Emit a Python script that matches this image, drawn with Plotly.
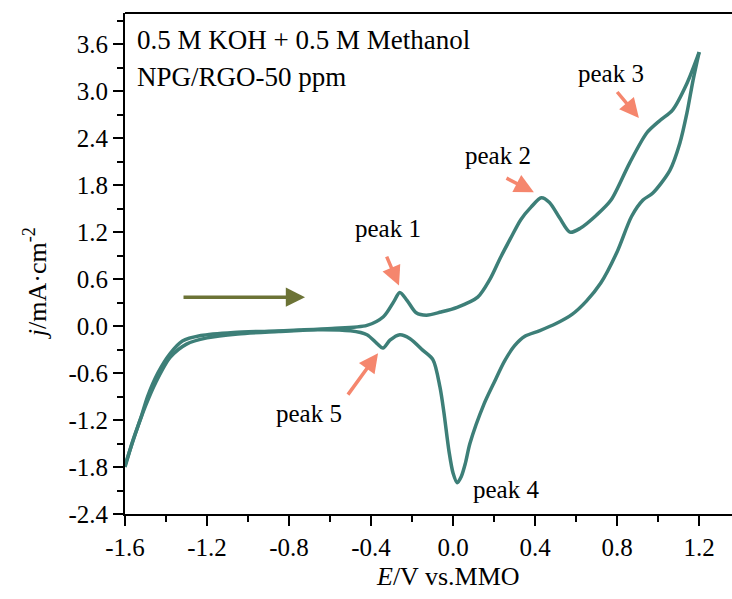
import plotly.graph_objects as go

# Anodic (forward) scan
fwd_x = [-1.6, -1.56, -1.52, -1.49, -1.44, -1.38, -1.32, -1.23, -1.07, -0.9, -0.75, -0.59,
         -0.42, -0.34, -0.29, -0.26, -0.225, -0.18, -0.13, -0.06, 0.02, 0.12, 0.18, 0.23,
         0.28, 0.33, 0.38, 0.43, 0.47, 0.52, 0.57, 0.62, 0.7, 0.77, 0.86, 0.945, 1.01, 1.07, 1.14, 1.2]
fwd_y = [-1.8, -1.45, -1.15, -0.9, -0.6, -0.35, -0.19, -0.12, -0.08, -0.065, -0.05, -0.03,
         0.01, 0.12, 0.31, 0.43, 0.33, 0.17, 0.14, 0.18, 0.24, 0.37, 0.6, 0.87,
         1.12, 1.36, 1.52, 1.64, 1.58, 1.38, 1.2, 1.25, 1.42, 1.61, 2.08, 2.47, 2.63, 2.76, 3.1, 3.5]

# Cathodic (reverse) scan
rev_x = [1.2, 1.17, 1.14, 1.106, 1.057, 0.974, 0.926, 0.87, 0.8, 0.72, 0.65, 0.58, 0.5,
         0.42, 0.35, 0.3, 0.25, 0.2, 0.15, 0.082, 0.06, 0.04, 0.02, 0.0, -0.02, -0.045, -0.064,
         -0.098, -0.147, -0.21, -0.26, -0.308, -0.342, -0.372, -0.42, -0.5, -0.66, -0.85,
         -1.05, -1.2, -1.3, -1.38, -1.45, -1.5, -1.55, -1.6]
rev_y = [3.5, 3.14, 2.72, 2.34, 1.99, 1.70, 1.61, 1.4, 0.95, 0.55, 0.32, 0.15, 0.03,
         -0.06, -0.13, -0.25, -0.45, -0.72, -1.0, -1.5, -1.75, -1.92, -2.0, -1.88, -1.6, -1.1, -0.78,
         -0.43, -0.31, -0.16, -0.11, -0.18, -0.28, -0.22, -0.11, -0.06, -0.045, -0.07,
         -0.1, -0.15, -0.23, -0.4, -0.72, -1.02, -1.38, -1.78]

x_ticks = [-1.6, -1.2, -0.8, -0.4, 0.0, 0.4, 0.8, 1.2]
x_labels = ["-1.6", "-1.2", "-0.8", "-0.4", "0.0", "0.4", "0.8", "1.2"]
y_ticks = [-2.4, -1.8, -1.2, -0.6, 0.0, 0.6, 1.2, 1.8, 2.4, 3.0, 3.6]
y_labels = ["-2.4", "-1.8", "-1.2", "-0.6", "0.0", "0.6", "1.2", "1.8", "2.4", "3.0", "3.6"]

peak_labels = ["peak 1", "peak 2", "peak 3", "peak 4", "peak 5"]
peak_text_x = [-0.318, 0.219, 0.772, 0.258, -0.703]
peak_text_y = [1.25, 2.18, 3.23, -2.09, -1.11]
peak_tip_x = [-0.264, 0.394, 0.906, None, -0.366]
peak_tip_y = [0.52, 1.71, 2.66, None, -0.345]
peak_tail_x = [-0.327, 0.253, 0.794, None, -0.518]
peak_tail_y = [0.907, 1.90, 3.01, None, -0.894]

LINE = "#3d7f78"
SALMON = "#f5866d"
OLIVE = "#6c7336"
FONT = "Liberation Serif"

fig = go.Figure()
fig.add_trace(go.Scatter(x=fwd_x, y=fwd_y, mode="lines",
                         line=dict(color=LINE, width=3.5, shape="spline", smoothing=0.8),
                         showlegend=False))
fig.add_trace(go.Scatter(x=rev_x, y=rev_y, mode="lines",
                         line=dict(color=LINE, width=3.5, shape="spline", smoothing=0.8),
                         showlegend=False))

ann = []
ann.append(dict(x=-1.551, y=3.655, xref="x", yref="y", text="0.5 M KOH + 0.5 M Methanol",
                showarrow=False, xanchor="left", yanchor="middle",
                font=dict(family=FONT, size=27, color="black")))
ann.append(dict(x=-1.551, y=3.18, xref="x", yref="y", text="NPG/RGO-50 ppm",
                showarrow=False, xanchor="left", yanchor="middle",
                font=dict(family=FONT, size=27, color="black")))
for i, lab in enumerate(peak_labels):
    ann.append(dict(x=peak_text_x[i], y=peak_text_y[i], xref="x", yref="y", text=lab,
                    showarrow=False, xanchor="center", yanchor="middle",
                    font=dict(family=FONT, size=25, color="black")))
    if peak_tip_x[i] is not None:
        ann.append(dict(x=peak_tip_x[i], y=peak_tip_y[i], ax=peak_tail_x[i], ay=peak_tail_y[i],
                        xref="x", yref="y", axref="x", ayref="y", text="", showarrow=True,
                        arrowhead=2, arrowsize=1.1, arrowwidth=3.5, arrowcolor=SALMON))
# scan-direction arrow
ann.append(dict(x=-0.722, y=0.37, ax=-1.322, ay=0.37, xref="x", yref="y", axref="x", ayref="y",
                text="", showarrow=True, arrowhead=2, arrowsize=1.1, arrowwidth=3.5,
                arrowcolor=OLIVE))
# axis titles
ann.append(dict(x=-0.148, y=0.461, xref="paper", yref="paper", text="<i>j</i>/mA·cm<sup>-2</sup>",
                showarrow=False, textangle=-90, xanchor="center", yanchor="middle",
                font=dict(family=FONT, size=26, color="black")))
ann.append(dict(x=0.532, y=-0.125, xref="paper", yref="paper", text="<i>E</i>/V vs.MMO",
                showarrow=False, xanchor="center", yanchor="middle",
                font=dict(family=FONT, size=26, color="black")))

fig.update_layout(
    width=732, height=599,
    margin=dict(l=125, r=0, t=13, b=85),
    paper_bgcolor="white", plot_bgcolor="white",
    annotations=ann,
    shapes=[dict(type="line", xref="paper", yref="paper", x0=0, x1=1.02, y0=1, y1=1,
                 line=dict(color="black", width=2))],
    xaxis=dict(range=[-1.6, 1.36], tickmode="array", tickvals=x_ticks, ticktext=x_labels,
               ticks="outside", ticklen=10, tickwidth=2, tickcolor="black",
               showline=True, linecolor="black", linewidth=2, mirror=False,
               showgrid=False, zeroline=False,
               tickfont=dict(family=FONT, size=25, color="black"),
               minor=dict(ticks="outside", ticklen=6, tickwidth=2, tickcolor="black",
                          tick0=-1.6, dtick=0.2, showgrid=False)),
    yaxis=dict(range=[-2.4, 4.0], tickmode="array", tickvals=y_ticks, ticktext=y_labels,
               ticks="outside", ticklen=10, tickwidth=2, tickcolor="black",
               showline=True, linecolor="black", linewidth=2, mirror=False,
               showgrid=False, zeroline=False,
               tickfont=dict(family=FONT, size=25, color="black"),
               minor=dict(ticks="outside", ticklen=6, tickwidth=2, tickcolor="black",
                          tick0=-2.4, dtick=0.3, showgrid=False)),
)

fig.write_html("out.html", config={"displayModeBar": False},
               post_script="document.body.style.margin='0';document.body.style.overflow='hidden';")
